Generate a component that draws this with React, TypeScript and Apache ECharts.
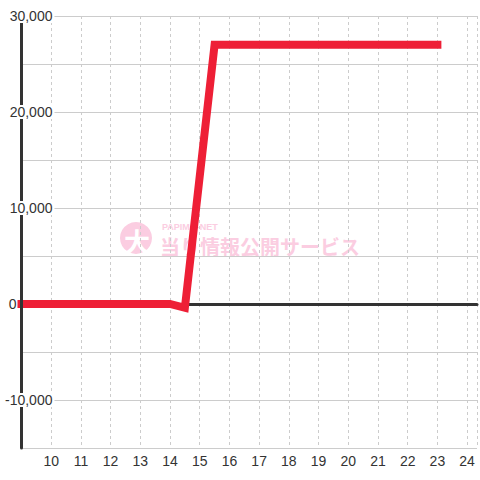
import React, { useEffect, useRef } from "react";
import * as echarts from "echarts";

const hours = [9, 14, 14.5, 15.5, 23];
const values = [0, 0, -400, 27000, 27000];
const xTickLabels = [10, 11, 12, 13, 14, 15, 16, 17, 18, 19, 20, 21, 22, 23, 24];
const yTickLabels = [-10000, 0, 10000, 20000, 30000];
const watermarkBrand = "PAPIMO-NET";
const watermarkIcon = "大";
const watermarkText = "当り情報公開サービス";

const FONT = "'Liberation Sans', Arial, sans-serif";

export default function App() {
  const ref = useRef<HTMLDivElement>(null);
  useEffect(() => {
    if (!ref.current) return;
    const chart = echarts.init(ref.current, null, { renderer: "svg" });
    const yMin = -15000;
    const yMax = 30000;
    const xMin = 9;
    const xMax = 9 + 460 / 30;
    const pink = "#fbcde1";
    chart.setOption({
      animation: false,
      backgroundColor: "#ffffff",
      grid: { left: 20, right: 0, top: 16, bottom: 32, containLabel: false },
      graphic: [
        {
          type: "group",
          z: -10,
          children: [
            { type: "circle", z: -10, shape: { cx: 136, cy: 238, r: 16 }, style: { fill: pink } },
            {
              type: "text",
              z: -9,
              x: 137,
              y: 240,
              style: {
                text: watermarkIcon,
                fill: "#ffffff",
                font: "bold 26px 'Noto Sans CJK JP'",
                align: "center",
                verticalAlign: "middle",
              },
            },
            {
              type: "text",
              z: -9,
              x: 162,
              y: 227,
              style: {
                text: watermarkBrand,
                fill: pink,
                font: "bold 9px " + FONT,
                align: "left",
                verticalAlign: "middle",
              },
            },
            {
              type: "text",
              z: -9,
              x: 160,
              y: 246,
              style: {
                text: watermarkText,
                fill: pink,
                font: "bold 20px 'Noto Sans CJK JP'",
                align: "left",
                verticalAlign: "middle",
              },
            },
          ],
        },
      ],
      xAxis: [
        {
          type: "value",
          min: xMin,
          max: xMax,
          interval: 1,
          position: "bottom",
          axisLine: { show: false, onZero: false },
          axisTick: { show: false },
          splitLine: { show: true, lineStyle: { color: "#cccccc", width: 1, type: [3, 3] } },
          axisLabel: {
            margin: 6,
            fontSize: 14,
            fontFamily: FONT,
            color: "#333333",
            showMinLabel: true,
            showMaxLabel: true,
            formatter: (v: number) => (xTickLabels.indexOf(v) >= 0 ? String(v) : ""),
          },
          z: 0,
        },
        {
          type: "value",
          min: xMin,
          max: xMax,
          interval: 1,
          position: "bottom",
          axisLine: { show: true, onZero: true, lineStyle: { color: "#333333", width: 3 } },
          axisTick: { show: false },
          axisLabel: { show: false },
          splitLine: { show: false },
          z: 0,
        },
      ],
      yAxis: [
        {
          type: "value",
          min: yMin,
          max: yMax,
          interval: 5000,
          position: "left",
          axisLine: { show: false },
          axisTick: { show: false },
          axisLabel: { show: false },
          splitLine: { show: true, lineStyle: { color: "#cccccc", width: 1 } },
          z: 0,
        },
        {
          type: "value",
          min: yMin,
          max: yMax,
          interval: 5000,
          position: "left",
          axisLine: { show: true, onZero: false, lineStyle: { color: "#333333", width: 3 } },
          axisTick: { show: false },
          splitLine: { show: false },
          axisLabel: {
            margin: -33,
            fontSize: 14,
            fontFamily: FONT,
            color: "#333333",
            showMinLabel: true,
            showMaxLabel: true,
            formatter: (v: number) => {
              if (yTickLabels.indexOf(v) < 0) return "";
              const s = v.toLocaleString("en-US");
              return v === 0 ? "{z|" + s + "}" : "{a|" + s + "}";
            },
            rich: {
              a: {
                fontSize: 14,
                fontFamily: FONT,
                color: "#333333",
                backgroundColor: "#ffffff",
                padding: [0, 2, 0, 2],
                lineHeight: 16,
              },
              z: {
                fontSize: 14,
                fontFamily: FONT,
                color: "#333333",
                padding: [0, 38, 0, 0],
                lineHeight: 16,
              },
            },
          },
          z: 3,
        },
      ],
      series: [
        {
          type: "line",
          xAxisIndex: 0,
          yAxisIndex: 0,
          data: hours.map((h, i) => [h, values[i]]),
          symbol: "none",
          z: 2,
          lineStyle: { color: "#ee1f36", width: 8, cap: "square", join: "miter" },
        },
      ],
    });
    return () => chart.dispose();
  }, []);
  return <div ref={ref} style={{ width: 480, height: 480, position: "absolute", left: 0, top: 0 }} />;
}
